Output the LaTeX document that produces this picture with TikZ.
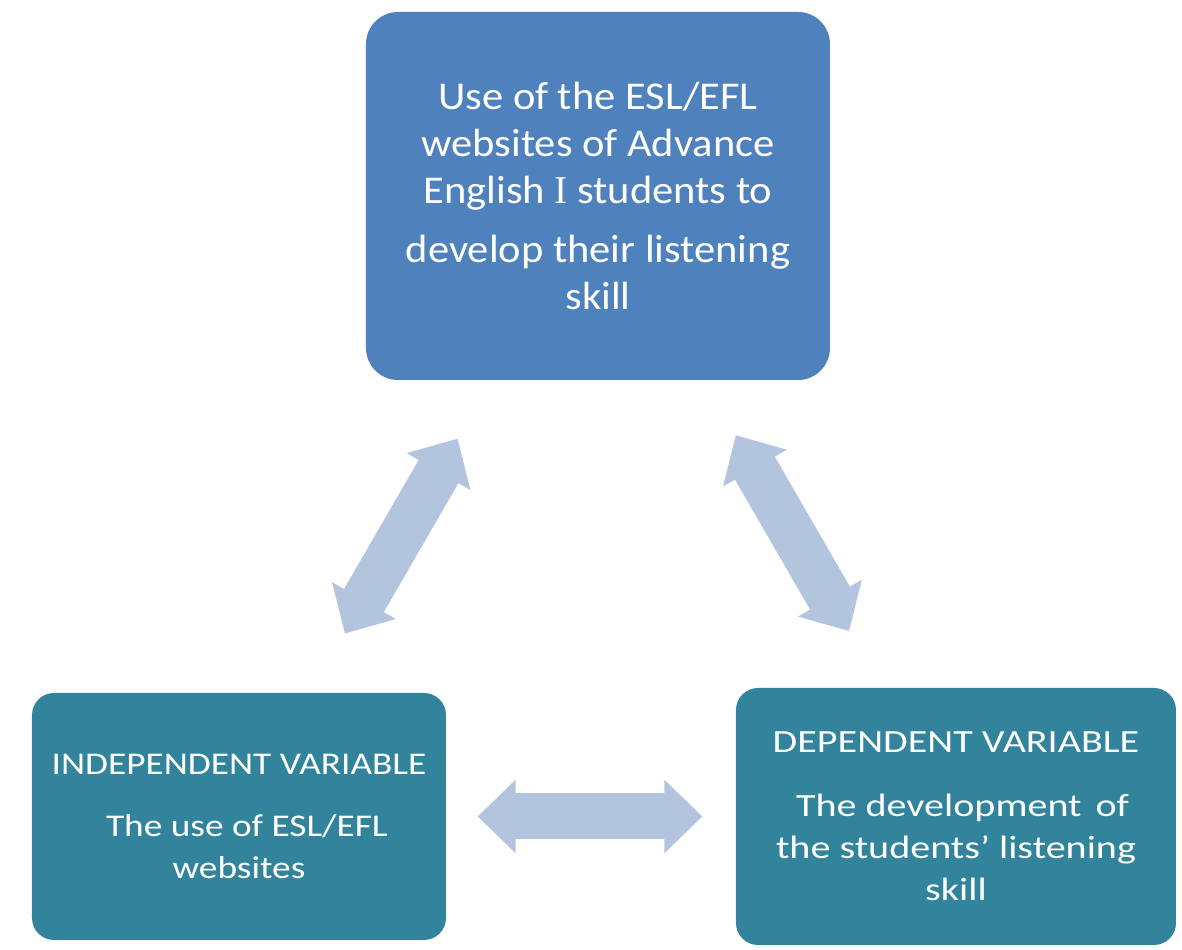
\documentclass[tikz,border=0pt]{standalone}
\usepackage{fontspec}
\setmainfont{Carlito}
\newfontfamily\serifI{Liberation Serif}
\newfontfamily\topCarlito[FakeStretch=1.08]{Carlito}
\newfontfamily\leftCarlito[FakeStretch=1.18]{Carlito}
\newfontfamily\rightCarlito[FakeStretch=1.24]{Carlito}
\usetikzlibrary{arrows.meta}

\definecolor{topblue}{HTML}{4F81BD}
\definecolor{varteal}{HTML}{31849B}
\definecolor{linkblue}{HTML}{B3C4DF}

\begin{document}
\begin{tikzpicture}[
  box/.style={text=white, align=center, inner sep=0pt},
  Fat/.tip={Triangle[width=0.73cm,length=0.38cm,line width=1pt]},
  link/.style={draw=linkblue, line width=0.46cm, Fat-Fat}
]

\useasboundingbox (0,0) rectangle (11.82,-9.5);

% top box
\node[box, fill=topblue, rounded corners=0.32cm,
      minimum width=4.64cm, minimum height=3.68cm,
      font=\topCarlito\fontsize{11.2}{13.4}\selectfont]
      (usage) at (5.98,-1.96)
      {Use of the ESL/EFL\\
       websites of Advance\\
       English {\serifI I} students to\\[3.4pt]
       develop their listening\\
       skill};

% variables
\node[box, fill=varteal, rounded corners=0.22cm,
      minimum width=4.14cm, minimum height=2.47cm,
      font=\leftCarlito\fontsize{9}{12}\selectfont]
      (indep) at (2.39,-8.165)
      {INDEPENDENT VARIABLE\\[5.5pt]
       \hspace*{0.5em}The use of ESL/EFL\\
       websites};

\node[box, fill=varteal, rounded corners=0.22cm,
      minimum width=4.40cm, minimum height=2.57cm,
      font=\rightCarlito\fontsize{9.2}{12}\selectfont]
      (dep) at (9.56,-8.165)
      {DEPENDENT VARIABLE\\[6pt]
       \hspace*{0.4em}The development\hspace{0.15em} of\\
       the students’ listening\\
       skill};

% links
\draw[link, shorten <=0.67cm, shorten >=0.68cm] (usage) -- (indep);
\draw[link, shorten <=0.63cm, shorten >=0.65cm] (usage) -- (dep);
\draw[link, shorten <=0.31cm, shorten >=0.33cm] (indep) -- (dep);

\end{tikzpicture}
\end{document}
